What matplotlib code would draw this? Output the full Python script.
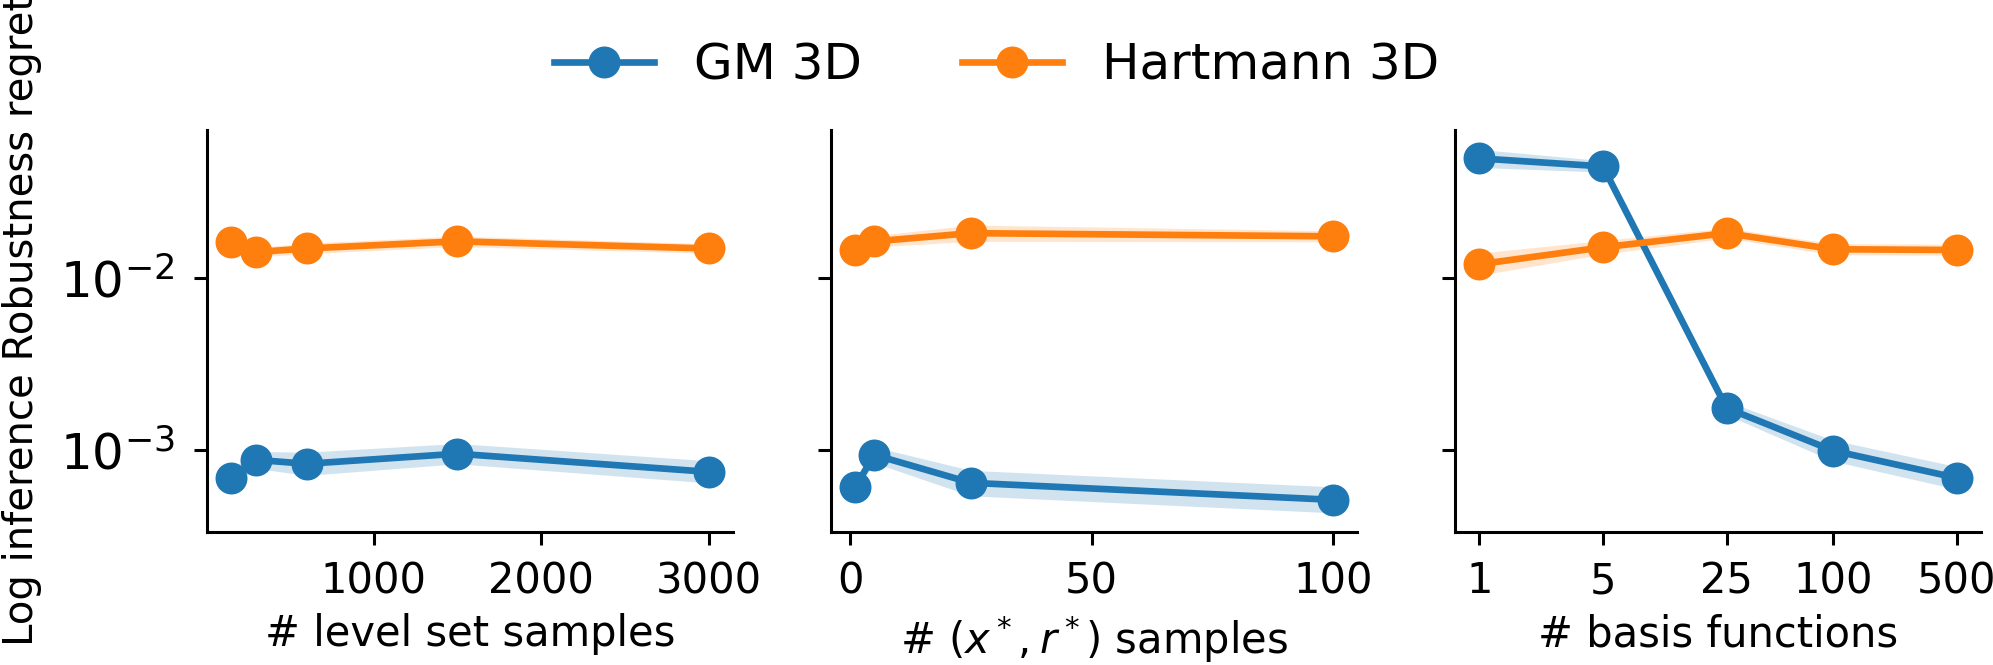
import numpy as np
import matplotlib
matplotlib.use("Agg")
import matplotlib.pyplot as plt
from matplotlib.ticker import FixedLocator, FixedFormatter, NullLocator

# panel 1: number of level set samples
level_x = [150, 300, 600, 1500, 3000]
level_gm = [0.00069, 0.000875, 0.00083, 0.00095, 0.000745]
level_gm_lo = [0.000616, 0.00078, 0.00071, 0.00083, 0.000642]
level_gm_hi = [0.00077, 0.00098, 0.00097, 0.00109, 0.000865]
level_hm = [0.0162, 0.0142, 0.0149, 0.0164, 0.0149]
level_hm_lo = [0.0152, 0.0133, 0.0139, 0.0153, 0.0140]
level_hm_hi = [0.0173, 0.0151, 0.0160, 0.0176, 0.0159]

# panel 2: number of (x*, r*) samples
xr_x = [1, 5, 25, 100]
xr_gm = [0.00061, 0.000935, 0.000643, 0.000512]
xr_gm_lo = [0.00057, 0.00084, 0.00054, 0.00043]
xr_gm_hi = [0.00065, 0.00104, 0.00076, 0.00061]
xr_hm = [0.01455, 0.0164, 0.0183, 0.01754]
xr_hm_lo = [0.0138, 0.0152, 0.0164, 0.0163]
xr_hm_hi = [0.0153, 0.0177, 0.0204, 0.0189]

# panel 3: number of basis functions
basis_x = [1, 5, 25, 100, 500]
basis_labels = ["1", "5", "25", "100", "500"]
basis_gm = [0.0499, 0.0448, 0.001754, 0.00099, 0.000687]
basis_gm_lo = [0.0442, 0.0415, 0.00160, 0.00086, 0.00059]
basis_gm_hi = [0.0563, 0.0484, 0.00192, 0.00114, 0.00080]
basis_hm = [0.01206, 0.01514, 0.0183, 0.01475, 0.0146]
basis_hm_lo = [0.0104, 0.0138, 0.0171, 0.0137, 0.0136]
basis_hm_hi = [0.0140, 0.0166, 0.0196, 0.0159, 0.0158]

series_names = ["GM 3D", "Hartmann 3D"]
colors = ["#1f77b4", "#ff7f0e"]

plt.rcParams["axes.linewidth"] = 1.1
plt.rcParams["xtick.major.size"] = 4.7
plt.rcParams["ytick.major.size"] = 4.7
plt.rcParams["xtick.major.width"] = 1.1
plt.rcParams["ytick.major.width"] = 1.1
plt.rcParams["xtick.major.pad"] = 5.5
plt.rcParams["ytick.major.pad"] = 7

fig, axes = plt.subplots(1, 3, figsize=(9.965, 3.325), dpi=200, sharey=True)
fig.subplots_adjust(left=0.104, right=0.9938, bottom=0.2005, top=0.8045, wspace=0.188)

panels = [
    (level_x, [(level_gm, level_gm_lo, level_gm_hi), (level_hm, level_hm_lo, level_hm_hi)], "# level set samples"),
    (xr_x, [(xr_gm, xr_gm_lo, xr_gm_hi), (xr_hm, xr_hm_lo, xr_hm_hi)], "# $(x^*, r^*)$ samples"),
    (basis_x, [(basis_gm, basis_gm_lo, basis_gm_hi), (basis_hm, basis_hm_lo, basis_hm_hi)], "# basis functions"),
]

for ax, (x, series, xlabel) in zip(axes, panels):
    for (mean, lo, hi), name, c in zip(series, series_names, colors):
        ax.fill_between(x, lo, hi, color=c, alpha=0.2, linewidth=0)
        ax.plot(x, mean, color=c, marker="o", markersize=10.5, linewidth=2.4, label=name)
    ax.set_xlabel(xlabel, fontsize=15)
    ax.spines["top"].set_visible(False)
    ax.spines["right"].set_visible(False)
    ax.tick_params(axis="x", labelsize=15)
    ax.tick_params(axis="y", labelsize=18)

axes[0].set_yscale("log")
axes[0].set_ylim(3.34e-4, 7.3e-2)
axes[0].yaxis.set_minor_locator(NullLocator())
axes[0].set_xticks([1000, 2000, 3000])
axes[1].set_xticks([0, 50, 100])

axes[2].set_xscale("log")
axes[2].xaxis.set_major_locator(FixedLocator(basis_x))
axes[2].xaxis.set_major_formatter(FixedFormatter(basis_labels))
axes[2].xaxis.set_minor_locator(NullLocator())

axes[0].set_ylabel("Log inference Robustness regret", fontsize=14.5)
axes[0].yaxis.set_label_coords(-0.314, 0.525)

handles, labels = axes[0].get_legend_handles_labels()
fig.legend(handles, labels, loc="center", bbox_to_anchor=(0.5, 0.902), ncol=2,
           frameon=False, fontsize=18)

fig.savefig("out.png", dpi=200)
